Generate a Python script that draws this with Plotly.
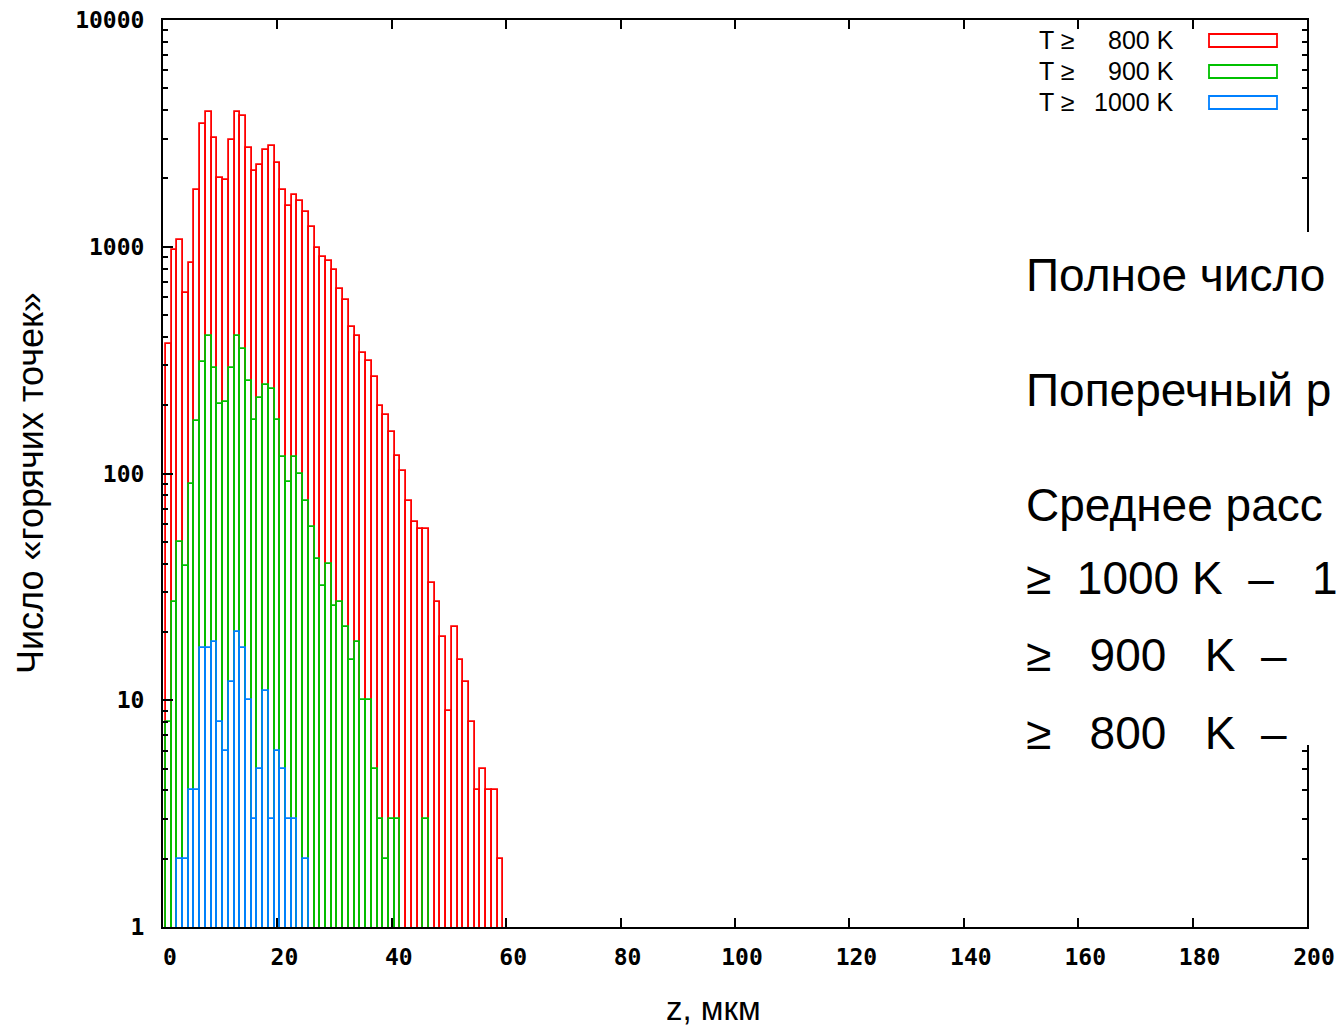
import plotly.graph_objects as go

# bin centres (z, um) and counts of "hot spots" for each temperature threshold
z_bins = list(range(1, 60))

red_800 = [371, 964, 1076, 625, 848, 1774, 3467, 3928, 3030, 2004,
           1963, 2970, 3928, 3773, 2717, 2158, 2294, 2663, 2793, 2350,
           1774, 1518, 1691, 1586, 1419, 1222, 984, 901, 865, 793,
           649, 585, 441, 404, 340, 313, 267, 198, 181, 152,
           120, 103, 76, 61, 57, 57, 33, 27, 19, 9,
           21, 15, 12, 8, 4, 5, 4, 4, 2]

green_900 = [8, 27, 50, 39, 90, 170, 311, 406, 292, 202,
             207, 292, 406, 354, 256, 173, 215, 246, 235, 173,
             118, 92, 118, 100, 76, 58, 42, 32, 40, 26,
             27, 21, 15, 18, 10, 10, 5, 3, 2, 3,
             3, None, None, None, None, 3, None, None, None, None,
             None, None, None, None, None, None, None, None, None]

blue_1000 = [None, None, 2, 2, 4, 4, 17, 17, 18, 8,
             6, 12, 20, 17, 10, 3, 5, 11, 3, 6,
             5, 3, 3, None, 2] + [None] * 34

x_ticks = [0, 20, 40, 60, 80, 100, 120, 140, 160, 180, 200]
y_ticks = [1, 10, 100, 1000, 10000]
y_ticktext = ["1", "10", "100", "1000", "10000"]

legend_labels = [("800 K", "#ff0000"), ("900 K", "#00c000"), ("1000 K", "#0080ff")]

NB = "\u00a0"
side_text = ["Полное число", "Поперечный р", "Среднее расс",
             "≥" + NB * 2 + "1000 K" + NB * 2 + "–" + NB * 3 + "1",
             "≥" + NB * 3 + "900" + NB * 3 + "K" + NB * 2 + "–",
             "≥" + NB * 3 + "800" + NB * 3 + "K" + NB * 2 + "–"]

# figure fills the whole 1337x1029 window (body margin removed in post_script)
W, H = 1337, 1029
PX0, PX1, PY0, PY1 = 163, 1307, 20, 927          # plot area in page pixels
PW, PH = PX1 - PX0, PY1 - PY0
L, T, R, B = PX0, PY0, W - PX1, H - PY1


def px(xp):
    return (xp - PX0) / PW


def py(yp):
    return (PY1 - yp) / PH


fig = go.Figure()
for vals, (lab, col) in zip([red_800, green_900, blue_1000], legend_labels):
    fig.add_trace(go.Bar(
        x=z_bins, y=vals, width=1,
        marker=dict(color="rgba(0,0,0,0)", line=dict(color=col, width=1.8)),
        name="T ≥ " + lab, showlegend=False,
    ))

tickfont = dict(family="DejaVu Sans Mono", size=23, color="black", weight="bold")

fig.update_layout(
    width=W, height=H,
    margin=dict(l=L, r=R, t=T, b=B, autoexpand=False),
    paper_bgcolor="white", plot_bgcolor="white",
    barmode="overlay", bargap=0,
    font=dict(family="Liberation Sans, Arial, sans-serif", color="black"),
    xaxis=dict(
        range=[0, 200], tickvals=x_ticks, ticks="inside", ticklen=9, tickwidth=2,
        tickcolor="black", mirror="ticks", showline=True, linecolor="black",
        linewidth=2, showgrid=False, zeroline=False, tickfont=tickfont,
        ticklabelstandoff=8, ticklabelshift=7, ticklabeloverflow="allow",
    ),
    yaxis=dict(
        type="log", range=[0, 4], tickvals=y_ticks, ticktext=y_ticktext,
        ticks="inside", ticklen=10, tickwidth=2, tickcolor="black",
        mirror="ticks", showline=True, linecolor="black", linewidth=2,
        showgrid=False, zeroline=False, tickfont=tickfont,
        ticklabelstandoff=12, ticklabeloverflow="allow",
        minor=dict(ticks="inside", ticklen=5, tickwidth=1.5, tickcolor="black",
                   dtick="D1", showgrid=False),
    ),
)

shapes = []
annotations = []

# axis titles
annotations.append(dict(x=px(713), y=py(1028), xref="paper", yref="paper",
                        text="z, мкм", showarrow=False, xanchor="center",
                        yanchor="bottom", borderpad=0, font=dict(size=33)))
annotations.append(dict(x=px(30), y=py(483), xref="paper", yref="paper",
                        text="Число «горячих точек»", showarrow=False,
                        textangle=-90, xanchor="center", yanchor="middle",
                        font=dict(size=36)))

# legend drawn as text + outlined boxes (gnuplot style)
row_y = [40, 71, 102]
for (lab, col), yy in zip(legend_labels, row_y):
    annotations.append(dict(x=px(1037), y=py(yy), xref="paper", yref="paper",
                            text="T ≥", showarrow=False, xanchor="left",
                            yanchor="middle", font=dict(size=25)))
    annotations.append(dict(x=px(1176), y=py(yy), xref="paper", yref="paper",
                            text=lab, showarrow=False, xanchor="right",
                            yanchor="middle", font=dict(size=25)))
    shapes.append(dict(type="rect", xref="paper", yref="paper",
                       x0=px(1209), x1=px(1277), y0=py(yy + 7), y1=py(yy - 6),
                       line=dict(color=col, width=1.8), fillcolor="rgba(0,0,0,0)"))

# slide text box overlapping the chart
shapes.append(dict(type="rect", xref="paper", yref="paper",
                   x0=px(1012), x1=px(1360), y0=py(745), y1=py(232),
                   line=dict(width=0), fillcolor="white", layer="above"))
text_y = [275, 390, 505, 578, 655, 733]
for txt, yy in zip(side_text, text_y):
    annotations.append(dict(x=px(1024), y=py(yy), xref="paper", yref="paper",
                            text=txt, showarrow=False, xanchor="left",
                            yanchor="middle", font=dict(size=46)))

fig.update_layout(shapes=shapes, annotations=annotations)
fig.write_html(
    "out.html",
    config={"displayModeBar": False},
    post_script=("document.body.style.margin='0';"
                 "document.documentElement.style.overflow='hidden';"
                 "document.body.style.overflow='hidden';"),
)
